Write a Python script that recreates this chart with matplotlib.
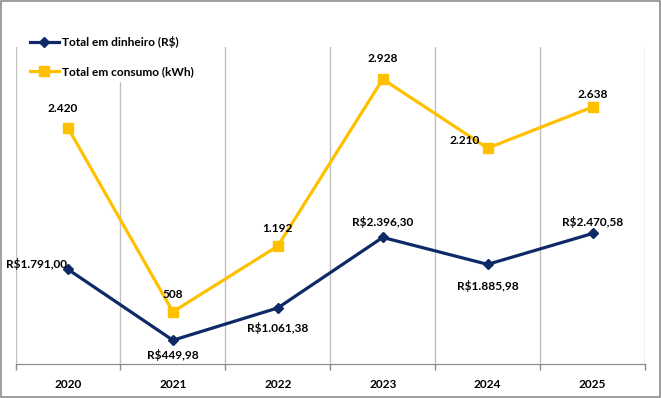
import numpy as np
import matplotlib.pyplot as plt
from matplotlib.patches import Rectangle

# Data
anos = ['2020', '2021', '2022', '2023', '2024', '2025']
dinheiro = [1791.00, 449.98, 1061.38, 2396.30, 1885.98, 2470.58]
consumo = [2420, 508, 1192, 2928, 2210, 2638]

dinheiro_txt = ['R$1.791,00', 'R$449,98', 'R$1.061,38', 'R$2.396,30', 'R$1.885,98', 'R$2.470,58']
consumo_txt = ['2.420', '508', '1.192', '2.928', '2.210', '2.638']

azul = '#0E2A66'
amarelo = '#FFC000'
plt.rcParams['font.family'] = ['Lato', 'DejaVu Sans']

fig = plt.figure(figsize=(6.61, 3.98), dpi=100)
ax = fig.add_axes([0.0235, 0.0854, 0.9523, 0.7965])
ax2 = ax.twinx()

x = np.arange(len(anos))

ax.plot(x, dinheiro, color=azul, lw=2.3, marker='D', ms=5.5, zorder=3,
        label='Total em dinheiro (R$)')
ax2.plot(x, consumo, color=amarelo, lw=2.3, marker='s', ms=6.5, zorder=3,
         label='Total em consumo (kWh)')

ax.set_ylim(0, 6000)
ax2.set_ylim(-35, 3262)
ax.set_xlim(-0.5, len(anos) - 0.5)

# vertical gridlines at category boundaries
ax.set_xticks(x)
ax.set_xticklabels(anos, fontsize=8.6, fontweight='bold')
ax.set_xticks(np.arange(-0.5, len(anos)), minor=True)
ax.tick_params(axis='x', which='major', length=0, pad=11)
ax.tick_params(axis='x', which='minor', length=4, color='#8C8C8C', width=1)
ax.grid(True, which='minor', axis='x', color='#BFBFBF', lw=1)
ax.set_yticks([])
ax2.set_yticks([])
for a in (ax, ax2):
    for s in ['top', 'left', 'right']:
        a.spines[s].set_visible(False)
    a.spines['bottom'].set_color('#8C8C8C')

# data labels
fs = 8.6
pos_d = [(-1, 5, 'right', 'center'), (0, -15, 'center', 'center'), (0, -20, 'center', 'center'),
         (0, 15, 'center', 'center'), (0, -22, 'center', 'center'), (0, 11, 'center', 'center')]
for i, (v, t) in enumerate(zip(dinheiro, dinheiro_txt)):
    dx, dy, ha, va = pos_d[i]
    ax.annotate(t, (x[i], v), xytext=(dx, dy), textcoords='offset pixels',
                ha=ha, va=va, fontsize=fs, fontweight='bold', zorder=5)

pos_c = [(-5, 19, 'center', 'center'), (0, 17, 'center', 'center'), (0, 18, 'center', 'center'),
         (0, 21, 'center', 'center'), (-8, 8, 'right', 'center'), (0, 13, 'center', 'center')]
for i, (v, t) in enumerate(zip(consumo, consumo_txt)):
    dx, dy, ha, va = pos_c[i]
    ax2.annotate(t, (x[i], v), xytext=(dx, dy), textcoords='offset pixels',
                 ha=ha, va=va, fontsize=fs, fontweight='bold', zorder=5)

h1, l1 = ax.get_legend_handles_labels()
h2, l2 = ax2.get_legend_handles_labels()
leg = ax2.legend(h1 + h2, l1 + l2, loc='upper left', bbox_to_anchor=(0.008, 1.065),
                 frameon=True, fancybox=False, framealpha=1, edgecolor='white',
                 prop={'size': 8.6, 'weight': 'bold'}, handlelength=2.4,
                 labelspacing=1.55, handletextpad=0.3, borderpad=0.3)
leg.set_zorder(10)

fig.patches.append(Rectangle((0.001, 0.002), 0.997, 0.995, transform=fig.transFigure,
                             fill=False, edgecolor='#8C8C8C', lw=1.2))

fig.savefig('out.png', dpi=100)
